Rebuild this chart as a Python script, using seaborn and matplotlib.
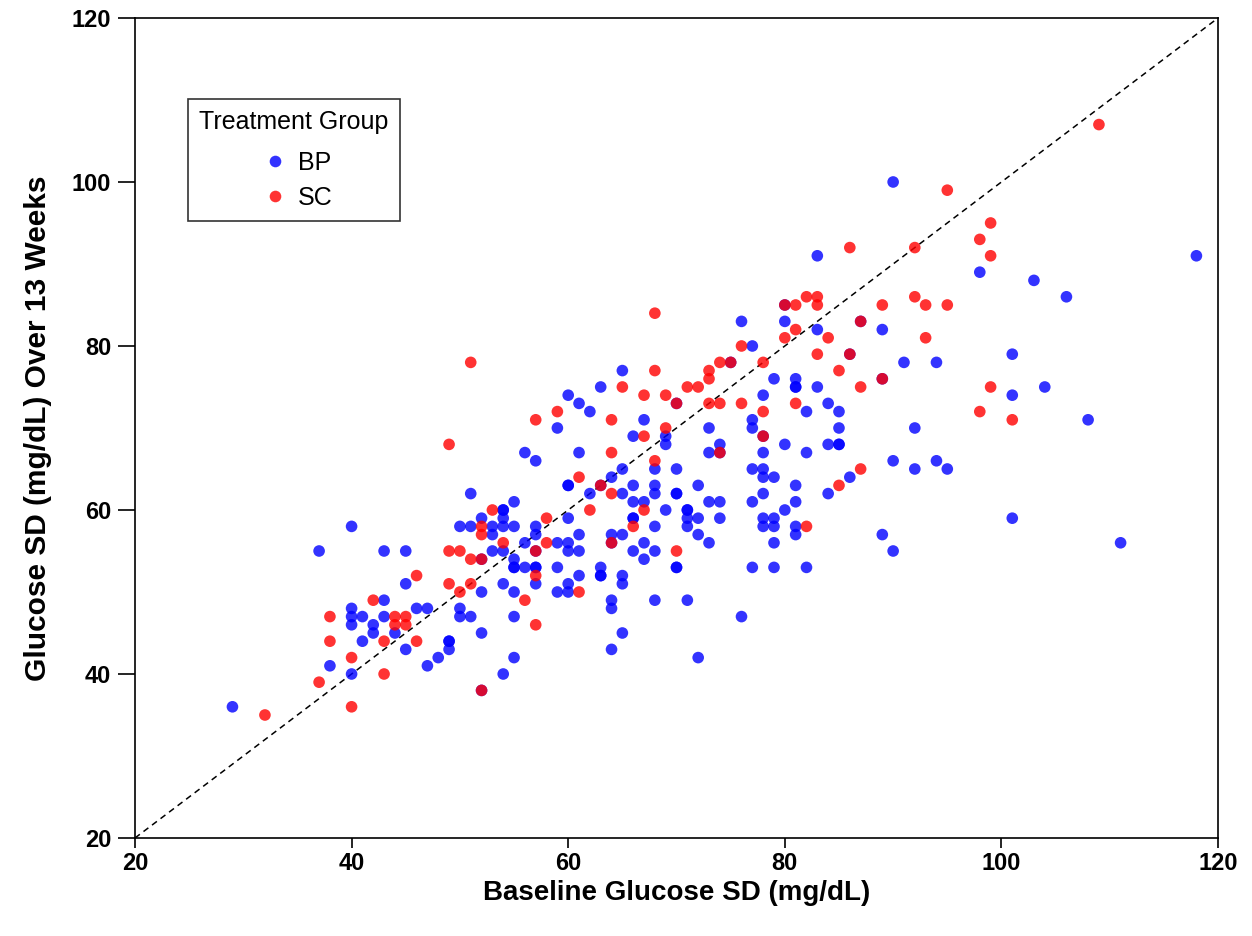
import matplotlib
matplotlib.use("Agg")
import matplotlib.pyplot as plt
import seaborn as sns
import pandas as pd

# ---- data ----
bp_points = [
    (29,36),(37,55),(38,41),
    (40,58),(40,48),(40,47),(40,46),(40,40),
    (41,47),(41,44),(42,46),(42,45),
    (43,55),(43,49),(43,47),(44,45),
    (45,55),(45,51),(45,43),(46,48),(47,48),(47,41),(48,42),
    (49,44),(49,44),(49,43),
    (50,58),(50,48),(50,47),
    (51,62),(51,58),(51,47),
    (52,59),(52,50),(52,45),(52,54),(52,38),
    (53,58),(53,57),(53,55),
    (54,60),(54,60),(54,59),(54,58),(54,55),(54,51),(54,40),
    (55,61),(55,58),(55,54),(55,53),(55,53),(55,50),(55,47),(55,42),
    (56,67),(56,56),(56,53),
    (57,66),(57,58),(57,57),(57,53),(57,53),(57,51),(57,55),
    (59,70),(59,56),(59,53),(59,50),
    (60,74),(60,63),(60,63),(60,59),(60,56),(60,55),(60,51),(60,50),
    (61,73),(61,67),(61,57),(61,55),(61,52),
    (62,72),(62,62),
    (63,75),(63,53),(63,52),(63,52),(63,63),
    (64,64),(64,57),(64,49),(64,48),(64,43),(64,56),
    (65,77),(65,65),(65,62),(65,57),(65,52),(65,51),(65,45),
    (66,69),(66,63),(66,61),(66,59),(66,59),(66,55),
    (67,71),(67,61),(67,56),(67,54),
    (68,65),(68,63),(68,62),(68,58),(68,55),(68,49),
    (69,69),(69,68),(69,60),
    (70,65),(70,62),(70,62),(70,53),(70,53),(70,73),
    (71,60),(71,60),(71,59),(71,58),(71,49),
    (72,63),(72,59),(72,57),(72,42),
    (73,70),(73,67),(73,61),(73,56),
    (74,68),(74,61),(74,59),(74,67),
    (75,78),
    (76,83),(76,47),
    (77,80),(77,71),(77,70),(77,65),(77,61),(77,53),
    (78,74),(78,67),(78,65),(78,64),(78,62),(78,59),(78,58),(78,69),
    (79,76),(79,64),(79,59),(79,58),(79,56),(79,53),
    (80,83),(80,68),(80,60),(80,85),
    (81,76),(81,75),(81,75),(81,63),(81,61),(81,58),(81,57),
    (82,72),(82,67),(82,53),
    (83,91),(83,82),(83,75),
    (84,73),(84,68),(84,62),
    (85,72),(85,70),(85,68),(85,68),
    (86,64),(86,79),
    (87,83),
    (89,82),(89,57),(89,76),
    (90,100),(90,66),(90,55),
    (91,78),(92,70),(92,65),(94,78),(94,66),(95,65),
    (98,89),(101,79),(101,74),(101,59),(103,88),(104,75),
    (106,86),(108,71),(111,56),(118,91),
]
sc_points = [
    (32,35),(37,39),(38,47),(38,44),(40,42),(40,36),(42,49),
    (43,44),(43,40),(44,47),(44,46),(45,47),(45,46),(46,52),(46,44),
    (49,68),(49,55),(49,51),(50,55),(50,50),
    (51,78),(51,54),(51,51),
    (52,58),(52,57),(52,54),(52,38),
    (53,60),(54,56),(56,49),
    (57,71),(57,55),(57,52),(57,46),
    (58,59),(58,56),(59,72),
    (61,64),(61,50),(62,60),(63,63),
    (64,71),(64,67),(64,62),(64,56),
    (65,75),(66,58),
    (67,74),(67,69),(67,60),
    (68,84),(68,77),(68,66),
    (69,74),(69,70),
    (70,73),(70,55),(71,75),(72,75),
    (73,77),(73,76),(73,73),
    (74,78),(74,73),(74,67),(75,78),
    (76,80),(76,73),
    (78,78),(78,72),(78,69),
    (80,85),(80,81),
    (81,85),(81,82),(81,73),
    (82,86),(82,58),
    (83,86),(83,85),(83,79),
    (84,81),(85,77),(85,63),
    (86,92),(86,79),
    (87,83),(87,75),(87,65),
    (89,85),(89,76),
    (92,92),(92,86),(93,85),(93,81),
    (95,99),(95,85),
    (98,93),(98,72),
    (99,95),(99,91),(99,75),
    (101,71),(109,107),
]
groups = ["BP", "SC"]
colors = ["#0000FF", "#FF0000"]
x_ticks = [20, 40, 60, 80, 100, 120]
y_ticks = [20, 40, 60, 80, 100, 120]

baseline = [p[0] for p in bp_points] + [p[0] for p in sc_points]
followup = [p[1] for p in bp_points] + [p[1] for p in sc_points]
group = ["BP"] * len(bp_points) + ["SC"] * len(sc_points)
df = pd.DataFrame({"Baseline": baseline, "Follow": followup, "Group": group})

sns.set_theme(style="white")
plt.rcParams["font.family"] = ["Liberation Sans", "DejaVu Sans"]
plt.rcParams["text.color"] = "black"
plt.rcParams["axes.labelcolor"] = "black"
plt.rcParams["xtick.color"] = "black"
plt.rcParams["ytick.color"] = "black"

fig = plt.figure(figsize=(12.52, 9.36), dpi=100)
ax = fig.add_axes([0.1078, 0.1047, 0.8651, 0.8761])

ax.plot([20, 120], [20, 120], linestyle=(0, (4, 3)), color="black", lw=1.1, zorder=1)

sns.scatterplot(data=df, x="Baseline", y="Follow", hue="Group",
                hue_order=groups, palette=dict(zip(groups, colors)),
                s=70, alpha=0.8, linewidth=0, ax=ax, zorder=2)

ax.set_xlim(20, 120)
ax.set_ylim(20, 120)
ax.set_xticks(x_ticks)
ax.set_yticks(y_ticks)
ax.tick_params(axis="both", direction="out", length=12, width=1.2,
               labelsize=17, pad=5, color="black", labelcolor="black",
               left=True, bottom=True)
ax.tick_params(axis="x", length=7, pad=3)
for lab in ax.get_xticklabels() + ax.get_yticklabels():
    lab.set_fontweight("bold")
for sp in ax.spines.values():
    sp.set_visible(True)
    sp.set_color("black")
    sp.set_linewidth(1.2)

ax.set_xlabel("Baseline Glucose SD (mg/dL)", fontsize=20, fontweight="bold",
              labelpad=4, color="black")
ax.set_ylabel("Glucose SD (mg/dL) Over 13 Weeks", fontsize=21.5, fontweight="bold",
              labelpad=14, color="black")

leg = ax.legend(title="Treatment Group", loc="upper left",
                bbox_to_anchor=(0.049, 0.901), fontsize=18, title_fontsize=18,
                frameon=True, fancybox=False, edgecolor="black",
                handletextpad=0.1, handlelength=1.6, borderpad=0.45,
                labelspacing=0.42, borderaxespad=0, markerscale=1.0)
leg._legend_box.sep = 12
leg.get_frame().set_linewidth(1.2)
leg.get_title().set_color("black")
for t in leg.get_texts():
    t.set_color("black")
for h in leg.legend_handles:
    h.set_alpha(0.8)

fig.savefig("out.png", dpi=100)
